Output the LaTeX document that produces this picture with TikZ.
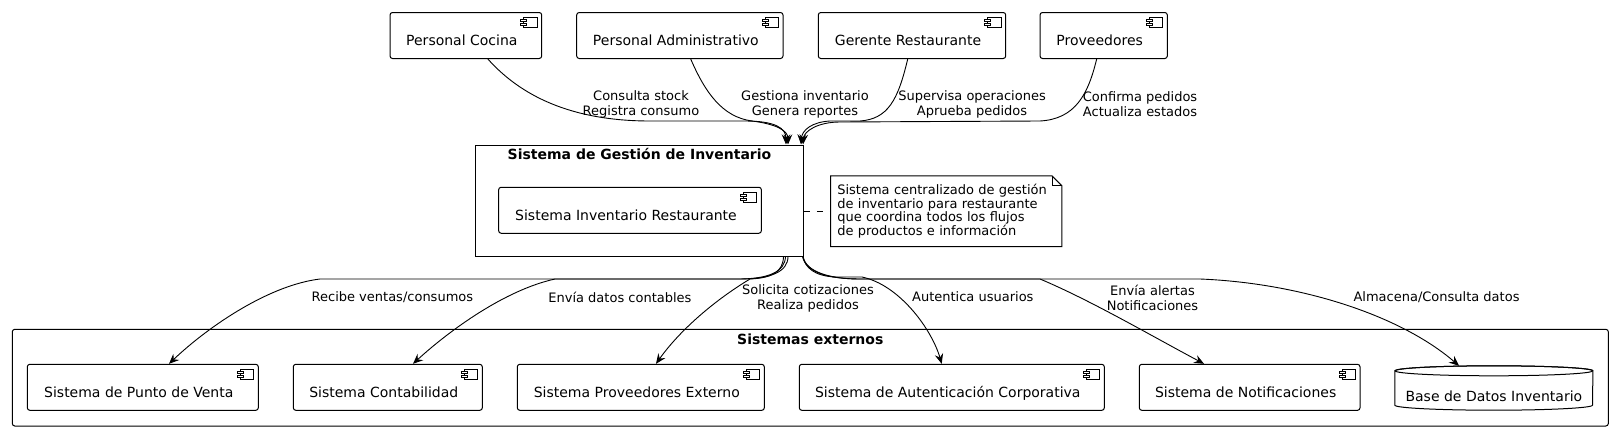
\documentclass[tikz,border=0pt]{standalone}
\usepackage{fontspec}
\setmainfont{DejaVu Sans}
\usetikzlibrary{arrows.meta}
\newcommand\compicon[1]{%
  \draw[iconline] ([xshift=-18.5pt,yshift=-5.5pt]#1.north east) rectangle ([xshift=-5pt,yshift=-15.5pt]#1.north east);
  \draw[iconline,fill=white] ([xshift=-21.5pt,yshift=-7.5pt]#1.north east) rectangle ([xshift=-15.5pt,yshift=-9.5pt]#1.north east);
  \draw[iconline,fill=white] ([xshift=-21.5pt,yshift=-11.5pt]#1.north east) rectangle ([xshift=-15.5pt,yshift=-13.5pt]#1.north east);}
\tikzset{
  comp/.style={draw, fill=white, rounded corners=2.5pt, minimum height=46pt, inner sep=0pt,
    text height=20pt, text depth=0pt, font=\fontsize{14}{16}\selectfont, line width=1pt,
    execute at begin node=\hspace*{-8pt}},
  elabel/.style={font=\fontsize{13}{15}\selectfont, align=center, inner sep=0pt},
  flow/.style={line width=0.9pt, -{Stealth[length=10pt,width=8.5pt,inset=3.5pt]}},
  iconline/.style={line width=0.8pt},
  titlefont/.style={font=\bfseries\fontsize{14}{16}\selectfont, inner sep=0pt},
  frame/.style={draw, line width=1pt, inner sep=0pt},
  notebox/.style={inner xsep=6.6pt, inner ysep=0pt, minimum width=231pt, minimum height=70.5pt,
    text width=217.8pt, align=left, font=\fontsize{13}{13.8}\selectfont},
  notelink/.style={line width=0.9pt, dash pattern=on 6pt off 7pt}
}
\begin{document}
\begin{tikzpicture}[x=1pt,y=-1pt]
\useasboundingbox (0,0) rectangle (1613,431);
% frames
\node[frame, rounded corners=2.5pt, minimum width=1596pt, minimum height=96.7pt] (ext) at (810.3,377.65) {};
\node[titlefont] (exttitle) at (810.3,339.5) {Sistemas externos};
\node[frame, minimum width=327.6pt, minimum height=111pt] (main) at (639.5,200.5) {};
\node[titlefont] (maintitle) at (639.5,154) {Sistema de Gestión de Inventario};
% top components
\node[comp, minimum width=151.7pt] (cocina) at (465.85,35.5) {Personal Cocina};
\node[comp, minimum width=206.3pt] (admin) at (679.85,35.5) {Personal Administrativo};
\node[comp, minimum width=187.4pt] (gerente) at (912,35.5) {Gerente Restaurante};
\node[comp, minimum width=127.3pt] (prov) at (1103.65,35.5) {Proveedores};
% inner component
\node[comp, minimum width=262.7pt] (inv) at (630,210.25) {Sistema Inventario Restaurante};
% bottom components
\node[comp, minimum width=231pt] (pos) at (142.8,387.3) {Sistema de Punto de Venta};
\node[comp, minimum width=189pt] (conta) at (387.8,387.3) {Sistema Contabilidad};
\node[comp, minimum width=247pt] (provext) at (640.8,387.3) {Sistema Proveedores Externo};
\node[comp, minimum width=305pt] (auth) at (951.8,387.3) {Sistema de Autenticación Corporativa};
\node[comp, minimum width=220.7pt] (notif) at (1249.65,387.3) {Sistema de Notificaciones};
\foreach \n in {cocina,admin,gerente,prov,inv,pos,conta,provext,auth,notif}{\compicon{\n}}
% database
\node[inner sep=0pt, minimum width=197.7pt, minimum height=44pt] (db) at (1493.85,388) {};
\draw[line width=1pt, fill=white] ([yshift=-5pt]db.north west) -- ([yshift=5pt]db.south west)
  arc[start angle=180, end angle=360, x radius=98.85pt, y radius=5pt]
  -- ([yshift=-5pt]db.north east) arc[start angle=0, end angle=180, x radius=98.85pt, y radius=5pt] -- cycle;
\draw[line width=1pt] ([yshift=-5pt]db.north) ellipse [x radius=98.85pt, y radius=5pt];
\node[inner sep=0pt, font=\fontsize{14}{16}\selectfont] (dbtext) at (1493.85,396) {Base de Datos Inventario};
% note
\node[notebox] (note) at (946.2,211.25) {Sistema centralizado de gestión\\de inventario para restaurante\\que coordina todos los flujos\\de productos e información};
\draw[line width=1pt] (note.north west) -- ([xshift=-10pt]note.north east) -- ([yshift=-10pt]note.north east)
  -- (note.south east) -- (note.south west) -- cycle;
\draw[line width=0.8pt] ([xshift=-10pt]note.north east) -- ([xshift=-10pt,yshift=-10pt]note.north east) -- ([yshift=-10pt]note.north east);
\draw[notelink] (main.east |- note.west) -- (note.west);
% top edges
\draw[flow] ([xshift=22pt]cocina.south) .. controls (520,95) and (570,121) .. (650,121) -- (745,121)
  .. controls (775,121) and (786,128) .. ([xshift=146.5pt]main.north);
\draw[flow] ([xshift=10.85pt]admin.south) .. controls (705,92) and (722,117) .. (752,121)
  .. controls (775,124) and (788,130) .. ([xshift=148.5pt]main.north);
\draw[flow] ([xshift=-4.3pt]gerente.south) .. controls (898,100) and (888,119) .. (860,121) -- (830,121)
  .. controls (812,122) and (802,130) .. ([xshift=161.5pt]main.north);
\draw[flow] ([xshift=-7pt]prov.south) .. controls (1088,95) and (1075,119) .. (1040,121) -- (840,122)
  .. controls (818,122) and (804,131) .. ([xshift=163.5pt]main.north);
\node[elabel] (l1) at (641,104) {Consulta stock\\Registra consumo};
\node[elabel] (l2) at (805,104) {Gestiona inventario\\Genera reportes};
\node[elabel] (l3) at (972,104) {Supervisa operaciones\\Aprueba pedidos};
\node[elabel] (l4) at (1140,104) {Confirma pedidos\\Actualiza estados};
% bottom edges
\draw[flow] ([xshift=148.5pt]main.south) .. controls (788,272) and (770,279) .. (740,279) -- (320,279)
  .. controls (270,285) and (210,325) .. ([xshift=26.2pt]pos.north);
\draw[flow] ([xshift=146pt]main.south) .. controls (785,272) and (768,279) .. (738,279) -- (555,279)
  .. controls (505,290) and (450,330) .. ([xshift=25.2pt]conta.north);
\draw[flow] ([xshift=144pt]main.south) .. controls (783,272) and (772,278) .. (750,279)
  .. controls (715,300) and (680,330) .. ([xshift=15.2pt]provext.north);
\draw[flow] ([xshift=163.5pt]main.south) .. controls (805,268) and (815,276) .. (835,277) -- (862,277)
  .. controls (900,285) and (932,330) .. ([xshift=-10.1pt]auth.north);
\draw[flow] ([xshift=163.5pt]main.south) .. controls (806,272) and (830,279) .. (860,279) -- (1040,279)
  .. controls (1090,300) and (1150,335) .. ([xshift=-45.65pt]notif.north);
\draw[flow] ([xshift=163pt]main.south) .. controls (806,273) and (830,279) .. (860,279) -- (1200,279)
  .. controls (1300,283) and (1400,315) .. ([xshift=-34.85pt]db.north);
\node[elabel] (b1) at (392.4,297.3) {Recibe ventas/consumos};
\node[elabel] (b2) at (619.9,297) {Envía datos contables};
\node[elabel] (b3) at (808,298.2) {Solicita cotizaciones\\Realiza pedidos};
\node[elabel] (b4) at (972.8,297) {Autentica usuarios};
\node[elabel] (b5) at (1152.5,298.2) {Envía alertas\\Notificaciones};
\node[elabel] (b6) at (1436.5,297) {Almacena/Consulta datos};
\end{tikzpicture}
\end{document}
